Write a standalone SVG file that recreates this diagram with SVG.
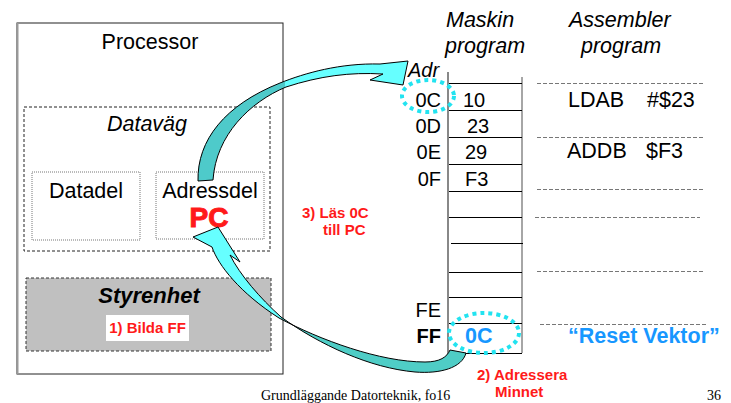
<svg xmlns="http://www.w3.org/2000/svg" width="731" height="403" viewBox="0 0 731 403">
<style>
text{font-family:"Liberation Sans",Arial,sans-serif;fill:#000}
.t{font-size:21.5px}
.i{font-style:italic}
.b{font-weight:bold}
.red{fill:#ff1a1a;font-weight:bold;font-size:15px}
.blue{fill:#1797ff;font-weight:bold}
.mem{font-size:20px}
.hl{stroke:#000;stroke-width:1}
.asm{stroke:#777;stroke-width:1;stroke-dasharray:4 2}
.dot{fill:none;stroke:#22e3f0;stroke-width:4;stroke-dasharray:4 4}
.arrow{stroke:#000;stroke-width:1;stroke-linejoin:miter}
.serif{font-family:"Liberation Serif","Times New Roman",serif;font-size:14px}
</style>
<defs>
<linearGradient id="gA" gradientUnits="userSpaceOnUse" x1="0" y1="0" x2="731" y2="0">
<stop offset="0" stop-color="#4ecaca"/><stop offset="0.39" stop-color="#4ecaca"/><stop offset="0.39" stop-color="#66ffff"/><stop offset="1" stop-color="#66ffff"/>
</linearGradient>
<linearGradient id="gB" gradientUnits="userSpaceOnUse" x1="0" y1="0" x2="731" y2="0">
<stop offset="0" stop-color="#66ffff"/><stop offset="0.384" stop-color="#66ffff"/><stop offset="0.384" stop-color="#4fcdc6"/><stop offset="1" stop-color="#4fcdc6"/>
</linearGradient>
</defs>
<rect width="731" height="403" fill="#fff"/>

<g id="processor">
<rect x="17" y="23" width="266" height="351" fill="#fff" stroke="#222" stroke-width="1"/>
<line x1="17.5" y1="23" x2="17.5" y2="374" stroke="#999" stroke-width="2"/>
<text class="t" x="150" y="49" text-anchor="middle">Processor</text>
</g>

<g id="datavag">
<rect x="24" y="107" width="246" height="144" fill="none" stroke="#222" stroke-width="1" stroke-dasharray="3 2"/>
<text class="t i" x="147" y="131" text-anchor="middle">Dataväg</text>
</g>

<g id="datadel">
<rect x="32" y="172" width="108" height="68" fill="none" stroke="#777" stroke-width="1" stroke-dasharray="1 1"/>
<text class="t" x="86" y="198" text-anchor="middle">Datadel</text>
</g>

<g id="adressdel">
<rect x="156" y="172" width="108" height="67" fill="none" stroke="#777" stroke-width="1" stroke-dasharray="1 1"/>
<text class="t" x="210" y="198" text-anchor="middle">Adressdel</text>
<text x="209" y="227" text-anchor="middle" style="font-size:28px;font-weight:bold;fill:#ff1a1a;stroke:#ff1a1a;stroke-width:1">PC</text>
</g>

<g id="styrenhet">
<rect x="26" y="278" width="245" height="73" fill="#c0c0c0" stroke="#333" stroke-width="1" stroke-dasharray="3 2"/>
<text class="b i" x="149" y="303" text-anchor="middle" style="font-size:22px">Styrenhet</text>
<rect x="106" y="315" width="83" height="26" fill="#fff"/>
<text class="red" x="147.5" y="333" text-anchor="middle">1) Bilda FF</text>
</g>

<g id="memory">
<text class="t i" x="446" y="27">Maskin</text>
<text class="t i" x="445" y="53">program</text>
<text class="mem i" x="408" y="77">Adr</text>
<line x1="448" y1="72" x2="448" y2="357" stroke="#888" stroke-width="2"/>
<line x1="522" y1="77" x2="522" y2="353" stroke="#888" stroke-width="1.5"/>
<line class="hl" x1="449" y1="83.5" x2="522" y2="83.5"/>
<line class="hl" x1="449" y1="110.5" x2="522" y2="110.5"/>
<line class="hl" x1="449" y1="137.5" x2="522" y2="137.5"/>
<line class="hl" x1="449" y1="164.5" x2="522" y2="164.5"/>
<line class="hl" x1="449" y1="191.5" x2="522" y2="191.5"/>
<line class="hl" x1="449" y1="217.5" x2="522" y2="217.5"/>
<line class="hl" x1="451" y1="243.5" x2="523" y2="243.5"/>
<line class="hl" x1="449" y1="272.5" x2="522" y2="272.5"/>
<line class="hl" x1="449" y1="297.5" x2="522" y2="297.5"/>
<line class="hl" x1="449" y1="323.5" x2="522" y2="323.5"/>
<line class="hl" x1="449" y1="353.5" x2="522" y2="353.5"/>
<text class="mem" x="441" y="107" text-anchor="end">0C</text>
<text class="mem" x="441" y="133" text-anchor="end">0D</text>
<text class="mem" x="441" y="159" text-anchor="end">0E</text>
<text class="mem" x="441" y="186" text-anchor="end">0F</text>
<text class="mem" x="441" y="317" text-anchor="end">FE</text>
<text class="mem b" x="441" y="343" text-anchor="end">FF</text>
<text class="mem" x="463" y="107">10</text>
<text class="mem" x="467" y="133">23</text>
<text class="mem" x="465" y="159">29</text>
<text class="mem" x="465" y="186">F3</text>
<text class="blue" x="465" y="343" style="font-size:21.5px">0C</text>
<ellipse class="dot" cx="428" cy="96" rx="26" ry="16"/>
<ellipse class="dot" cx="484" cy="333" rx="35" ry="20"/>
</g>

<g id="assembler">
<text class="t i" x="569" y="27">Assembler</text>
<text class="t i" x="581" y="53">program</text>
<line class="asm" x1="537" y1="83.5" x2="703" y2="83.5"/>
<line class="asm" x1="537" y1="137.5" x2="703" y2="137.5"/>
<line class="asm" x1="537" y1="189.5" x2="703" y2="189.5"/>
<line class="asm" x1="535" y1="217.5" x2="700" y2="217.5"/>
<line class="asm" x1="537" y1="271.5" x2="703" y2="271.5"/>
<line class="asm" x1="540" y1="324.5" x2="706" y2="324.5"/>
<text class="t" x="568" y="107">LDAB</text>
<text class="t" x="647" y="107">#$23</text>
<text class="t" x="567" y="158">ADDB</text>
<text class="t" x="646" y="158">$F3</text>
<text class="blue" x="568" y="343" style="font-size:21.5px">“Reset Vektor”</text>
</g>

<g id="connectors">
<path class="arrow" fill="url(#gA)" d="M198,181 C197,140 225,105 280,83 C305,73 340,63 380,64 L408,61 L403,85 L370,80 L383,74 C350,72 320,76 286,87 C250,102 216,135 213,180 Z"/>
<path class="arrow" fill="url(#gB)" d="M466,353 C462,368 440,374 415,372 C370,368 320,345 281,317 C260,298 240,275 230,255 L240,262 L218,227 L193,237 L212,247 C218,265 240,293 279,318 C320,340 380,362 425,362 C440,362 447,357 450,350 Z"/>
</g>

<g id="labels">
<text class="red" x="302" y="218">3) Läs 0C</text>
<text class="red" x="323" y="235">till PC</text>
<text class="red" x="477" y="380">2) Adressera</text>
<text class="red" x="495" y="397">Minnet</text>
<text class="serif" x="261" y="400">Grundläggande Datorteknik, fo16</text>
<text class="serif" x="707" y="399.5">36</text>
</g>
</svg>
